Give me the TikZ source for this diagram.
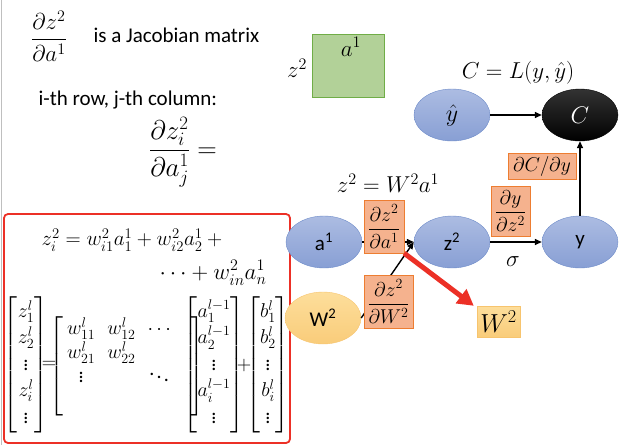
\RequirePackage{fix-cm}
\documentclass[tikz,border=0pt]{standalone}
\usepackage{amsmath}
\usepackage{fontspec}
\setmainfont{Carlito}
\usetikzlibrary{shapes.geometric,arrows.meta}
\definecolor{nodetop}{RGB}{172,188,226}
\definecolor{nodebot}{RGB}{136,159,212}
\definecolor{nodeline}{RGB}{108,138,200}
\definecolor{wtop}{RGB}{253,222,155}
\definecolor{wbot}{RGB}{249,204,122}
\definecolor{wline}{RGB}{247,196,110}
\definecolor{gradfill}{RGB}{245,178,142}
\definecolor{gradline}{RGB}{237,125,49}
\definecolor{greenfill}{RGB}{178,209,152}
\definecolor{greenline}{RGB}{112,173,71}
\definecolor{boxred}{RGB}{236,48,38}
\tikzset{
  neuron/.style={ellipse,draw=nodeline,top color=nodetop,bottom color=nodebot,
    minimum width=76pt,minimum height=52pt,inner sep=0pt,font=\fontsize{21}{23}\selectfont},
  wneuron/.style={neuron,draw=wline,top color=wtop,bottom color=wbot},
  grad/.style={rectangle,draw=gradline,fill=gradfill,inner sep=1pt,font=\fontsize{20}{22}\selectfont},
  link/.style={-{Triangle[length=7pt,width=6pt]},line width=1.4pt},
  big/.style={font=\fontsize{21}{25}\selectfont},
  huge/.style={font=\fontsize{23}{27}\selectfont},
  mat/.style={font=\fontsize{20}{22}\selectfont,inner sep=0pt},
}
\begin{document}
\begin{tikzpicture}[x=1pt,y=-1pt]
\useasboundingbox (0,0) rectangle (635,445);
\draw[black!25,line width=1pt] (1,0) -- (1,445);

\node[huge] (jac) at (49,36) {$\dfrac{\partial z^2}{\partial a^1}$};
\node[big,anchor=west] (jactext) at (90,35) {is a Jacobian matrix};
\node[big,anchor=west] (rowcol) at (35,100) {i-th row, j-th column:};
\node[font=\fontsize{27}{31}\selectfont] (elem) at (183,152) {$\dfrac{\partial z_i^2}{\partial a_j^1} =$};

\draw[boxred,line width=1.8pt,rounded corners=4pt] (4,214) rectangle (290,443);
\node[font=\fontsize{21}{25}\selectfont,anchor=west] (sum1) at (38,240) {$z_i^2 = w_{i1}^2a_1^1 + w_{i2}^2a_2^1 + {}$};
\node[huge,anchor=east] (sum2) at (270,273) {$\cdots + w_{in}^2a_n^1$};
\node[mat] (zvec) at (26,365) {\renewcommand{\arraystretch}{1.2}$\left[\begin{array}{@{}c@{}}z_1^l\\ z_2^l\\ \vdots\\ z_i^l\\ \vdots\end{array}\right]$};
\node[mat] (eq) at (49,365) {$=$};
\node[mat] (wmat) at (127,366) {\renewcommand{\arraystretch}{1.1}$\left[\begin{array}{@{\hspace{4pt}}c@{\hspace{12pt}}c@{\hspace{12pt}}c@{\hspace{20pt}}}w_{11}^l & w_{12}^l & \cdots\\ w_{21}^l & w_{22}^l & \\ \vdots & & \ddots\\ & & \end{array}\right]$};
\node[mat] (avec) at (214,365) {\renewcommand{\arraystretch}{1.2}$\left[\begin{array}{@{}c@{}}a_1^{l-1}\\ a_2^{l-1}\\ \vdots\\ a_i^{l-1}\\ \vdots\end{array}\right]$};
\node[mat] (plus) at (244,365) {$+$};
\node[mat] (bvec) at (268,365) {\renewcommand{\arraystretch}{1.2}$\left[\begin{array}{@{}c@{}}b_1^l\\ b_2^l\\ \vdots\\ b_i^l\\ \vdots\end{array}\right]$};

\node[draw=greenline,fill=greenfill,minimum width=72pt,minimum height=63pt,inner sep=0pt] (jbox) at (348,65.5) {};
\node[huge,anchor=north] (acol) at ([xshift=3pt]jbox.north) {$a^1$};
\node[huge] (zrow) at (297,68) {$z^2$};

\node[huge] (loss) at (518,73) {$C = L(y,\hat{y})$};
\node[neuron,font=\fontsize{24}{26}\selectfont] (yhat) at (452,115) {$\hat{y}$};
\node[neuron,draw=black,top color=black!80,bottom color=black,font=\fontsize{24}{26}\selectfont] (cost) at (580,115) {\color{white}$C$};
\node[neuron] (a1) at (324,242) {a\textsuperscript{1}};
\node[neuron] (z2) at (452,242) {z\textsuperscript{2}};
\node[neuron] (y) at (580,242) {y};
\node[wneuron] (w2) at (323,318) {W\textsuperscript{2}};

\draw[link] (yhat) -- (cost);
\draw[link] (y) -- (cost);
\draw[link] (a1) -- (z2);
\draw[link] (w2.east) -- (z2.west);
\draw[link] (z2) -- (y);

\node[huge] (fwd) at (388,183) {$z^2 = W^2a^1$};
\node[grad,minimum width=68pt,minimum height=26pt] (dcdy) at (542,166) {$\partial C/\partial y$};
\node[grad,minimum width=40pt,minimum height=53pt] (dzda) at (384,226.5) {$\dfrac{\partial z^2}{\partial a^1}$};
\node[grad,minimum width=49pt,minimum height=53pt] (dzdw) at (388.5,301.5) {$\dfrac{\partial z^2}{\partial W^2}$};
\node[grad,minimum width=39pt,minimum height=50pt] (dydz) at (510.5,211) {$\dfrac{\partial y}{\partial z^2}$};
\node[huge] (sig) at (513,262) {$\sigma$};

\node[draw=wline,top color=wtop,bottom color=wbot,minimum width=43pt,minimum height=31pt,inner sep=0pt,font=\fontsize{26}{28}\selectfont] (wbox) at (498.5,321.5) {$W^2$};
\draw[boxred,line width=5pt,-{Triangle[length=16pt,width=17pt]}] (dzda.south east) -- ([xshift=-3pt]wbox.north west);
\end{tikzpicture}
\end{document}
